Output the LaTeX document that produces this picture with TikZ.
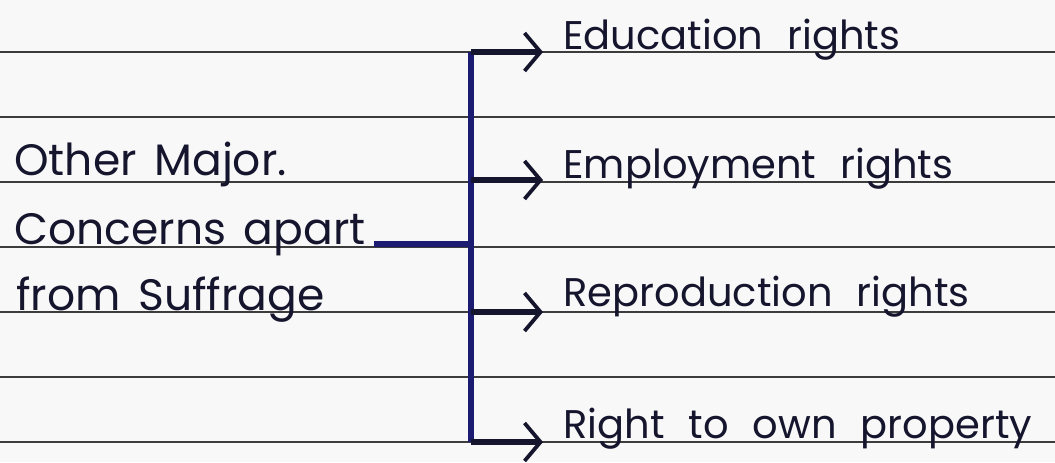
\documentclass[tikz,border=0pt]{standalone}
\usepackage{fontspec}
\setmainfont{Poppins}
\usetikzlibrary{arrows.meta,positioning}
\definecolor{ink}{HTML}{15152E}
\definecolor{pen}{HTML}{1B1B72}
\definecolor{rulegray}{HTML}{3C3C3C}
\definecolor{paper}{HTML}{F8F8F8}
\newcommand\topicfont{\fontsize{22}{24}\selectfont\spaceskip 0.4em\relax}
\newcommand\itemfont{\fontsize{20}{22}\selectfont\spaceskip 0.6em\relax}

\begin{document}
\begin{tikzpicture}[x=0.5pt,y=-0.5pt,
  ruled/.style={rulegray,line width=1pt},
  bar/.style={pen,line width=2.6pt},
  branch/.style={ink,line width=2.8pt,shorten >=10pt,
    -{Straight Barb[length=8pt,width=19pt,line width=1.9pt]}},
  lefttext/.style={anchor=base west,inner sep=2pt,ink,font=\topicfont},
  righttext/.style={anchor=base west,inner sep=0pt,ink,font=\itemfont}]
\fill[paper] (0,0) rectangle (1055,462);
\useasboundingbox (0,0) rectangle (1055,462);
% ruled paper
\foreach \y in {52,117,182,247,312,377,442}
  \draw[ruled] (0,\y) -- (1055,\y);
% topic
\node[lefttext] (other) at (10,175) {Other Major.};
\node[lefttext] (concerns) at (10,244) {Concerns apart};
\node[lefttext] (suffrage) at (12,310) {from Suffrage};
% concerns
\node[righttext] (edu) at (563,49) {Education rights};
\node[righttext] (emp) at (563,178) {Employment rights};
\node[righttext] (repro) at (563,306) {Reproduction rights};
\node[righttext] (prop) at (563,438) {Right to own property};
% bracket
\coordinate (b1) at (471,52);
\coordinate (b2) at (471,180);
\coordinate (b3) at (471,312);
\coordinate (b4) at (471,442);
\draw[bar] (b1) -- (b4);
\draw[bar] ([xshift=2pt]concerns.base east) -- (concerns.base east -| b1);
\draw[branch] (b1) -- (b1 -| edu.west);
\draw[branch] (b2) -- (b2 -| emp.west);
\draw[branch] (b3) -- (b3 -| repro.west);
\draw[branch] (b4) -- (b4 -| prop.west);
\end{tikzpicture}
\end{document}
